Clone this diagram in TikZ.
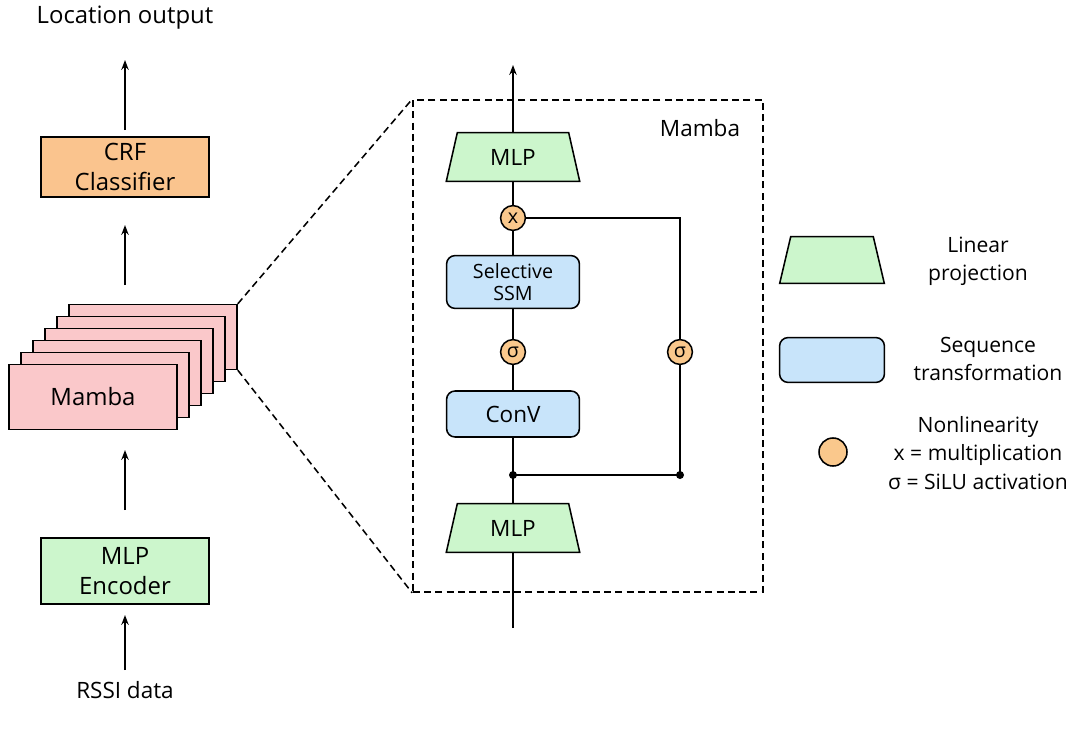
\documentclass[tikz,border=0pt]{standalone}
\usepackage{fontspec}
\setmainfont{Open Sans}
\usetikzlibrary{shapes.geometric, arrows.meta, positioning, calc}
\definecolor{crforange}{RGB}{250,196,142}
\definecolor{mambapink}{RGB}{250,200,202}
\definecolor{mlpgreen}{RGB}{204,246,204}
\definecolor{ssmblue}{RGB}{200,228,250}
\definecolor{gateorange}{RGB}{250,200,140}
\tikzstyle{block} = [rectangle, draw, line width=1.1pt, text centered, align=center, minimum width=4.2cm, minimum height=1.6cm, font=\fontsize{17}{21}\selectfont]
\tikzstyle{seq} = [rectangle, rounded corners=6pt, draw, line width=1.1pt, fill=ssmblue, align=center, minimum width=3.32cm, font=\fontsize{14}{16}\selectfont]
\tikzstyle{proj} = [rectangle, minimum width=3.32cm, minimum height=1.2cm, font=\fontsize{16}{19}\selectfont]
\tikzstyle{trap} = [draw, line width=1.1pt, fill=mlpgreen]
\tikzstyle{gate} = [circle, draw, line width=1.1pt, fill=gateorange, minimum size=0.62cm, inner sep=0pt, font=\fontsize{14}{16}\selectfont]
\tikzstyle{flow} = [line width=1.3pt, -{Stealth[length=7pt]}]
\tikzstyle{wire} = [line width=1.3pt]
\tikzstyle{txt} = [align=center, font=\fontsize{15}{20}\selectfont]
\newcommand{\trapbox}[2]{\draw[trap] ($(#1.north west)+(#2,0)$) -- ($(#1.north east)+(-#2,0)$) -- (#1.south east) -- (#1.south west) -- cycle;}

\begin{document}
\begin{tikzpicture}[x=0.025cm, y=-0.025cm]
	\useasboundingbox (0,0) rectangle (1080,730);

	% Left column
	\node (loc) at (125,18) [font=\fontsize{17}{20}\selectfont] {Location output};
	\node (crf) at (125,167) [block, fill=crforange, minimum height=1.5cm] {CRF\\Classifier};
	\foreach \i in {5,4,3,2,1}
		\node (m\i) at (93+12*\i,397-12*\i) [block, fill=mambapink, minimum height=1.62cm] {};
	\node (mamba) at (93,397) [block, fill=mambapink, minimum height=1.62cm] {Mamba};
	\node (enc) at (125,571) [block, fill=mlpgreen, minimum height=1.65cm] {MLP\\Encoder};
	\node (rssi) at (125,690) [font=\fontsize{16}{19}\selectfont] {RSSI data};
	\coordinate (a0) at (125,130); \coordinate (a1) at (125,60);
	\coordinate (b0) at (125,285); \coordinate (b1) at (125,225);
	\coordinate (c0) at (125,510); \coordinate (c1) at (125,450);
	\coordinate (d0) at (125,670); \coordinate (d1) at (125,615);
	\draw[flow] (a0) -- (a1);
	\draw[flow] (b0) -- (b1);
	\draw[flow] (c0) -- (c1);
	\draw[flow] (d0) -- (d1);

	% Zoomed Mamba block
	\node (frame) at (588,346) [draw, line width=1.1pt, dash pattern=on 5pt off 3pt, minimum width=8.75cm, minimum height=12.3cm] {};
	\node (title) at (700,128) [font=\fontsize{16}{19}\selectfont] {Mamba};
	\draw[line width=1.1pt, dash pattern=on 5pt off 3pt] (m5.north east) -- (frame.north west);
	\draw[line width=1.1pt, dash pattern=on 5pt off 3pt] (m5.south east) -- (frame.south west);

	\node (mlptop) at (513,157) [proj] {};
	\trapbox{mlptop}{11}
	\node at (mlptop) [proj] {MLP};
	\node (mul) at (513,218) [gate] {x};
	\node (ssm) at (513,282) [seq, minimum height=1.32cm] {Selective\\SSM};
	\node (sig1) at (513,352) [gate] {σ};
	\node (conv) at (513,414) [seq, minimum height=1.15cm, font=\fontsize{16}{19}\selectfont] {ConV};
	\node (mlpbot) at (513,528) [proj] {};
	\trapbox{mlpbot}{11}
	\node at (mlpbot) [proj] {MLP};
	\node (sig2) at (680,352) [gate] {σ};
	\coordinate (in) at (513,628);
	\coordinate (out) at (513,65);
	\coordinate (split) at (513,475);
	\coordinate (corner) at (680,475);
	\coordinate (turn) at (680,218);
	\fill (split) circle (4);
	\fill (corner) circle (4);

	\draw[wire] (in) -- (mlpbot);
	\draw[wire] (mlpbot) -- (conv);
	\draw[wire] (conv) -- (sig1);
	\draw[wire] (sig1) -- (ssm);
	\draw[wire] (ssm) -- (mul);
	\draw[wire] (mul) -- (mlptop);
	\draw[flow] (mlptop) -- (out);
	\draw[wire] (split) -- (corner) -- (sig2);
	\draw[wire] (sig2) -- (turn) -- (mul);

	% Legend
	\node (lgproj) at (832,260) [proj, minimum width=2.6cm, minimum height=1.15cm] {};
	\trapbox{lgproj}{11}
	\node (lgseq) at (832,360) [seq, minimum width=2.62cm, minimum height=1.12cm] {};
	\node (lggate) at (833,452) [gate, minimum size=0.7cm] {};
	\node (tproj) at (978,261) [txt] {Linear\\projection};
	\node (tseq) at (988,359) [txt] {Sequence\\transformation};
	\node (tgate) at (978,453) [txt] {Nonlinearity\\x = multiplication\\σ = SiLU activation};
\end{tikzpicture}
\end{document}
